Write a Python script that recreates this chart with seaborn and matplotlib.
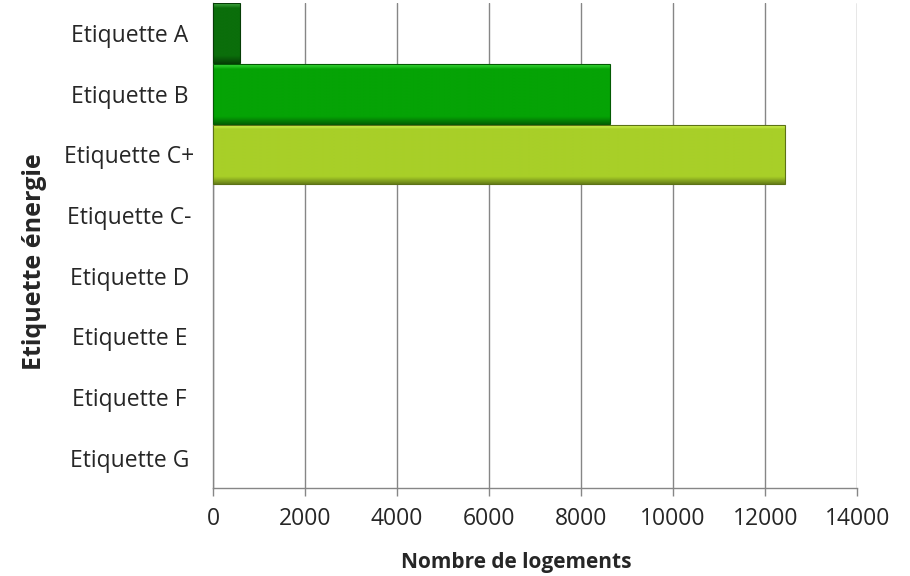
import numpy as np
import pandas as pd
import matplotlib
matplotlib.use("Agg")
import matplotlib.pyplot as plt
import matplotlib.colors as mcolors
import seaborn as sns

categories = ["Etiquette A", "Etiquette B", "Etiquette C+", "Etiquette C-",
              "Etiquette D", "Etiquette E", "Etiquette F", "Etiquette G"]
logements = [580, 8620, 12420, 0, 0, 0, 0, 0]
bar_colors = ["#0b6e0b", "#05a305", "#a8cf28", "#a8cf28",
              "#a8cf28", "#a8cf28", "#a8cf28", "#a8cf28"]
x_ticks = [0, 2000, 4000, 6000, 8000, 10000, 12000, 14000]

df = pd.DataFrame({"etiquette": categories, "logements": logements})

sns.set_theme(style="white")
plt.rcParams["font.family"] = ["Open Sans", "DejaVu Sans"]

fig = plt.figure(figsize=(9.1, 5.76), dpi=100)
ax = fig.add_axes([0.234, 0.153, 0.708, 0.842])

sns.barplot(data=df, y="etiquette", x="logements", hue="etiquette",
            palette=bar_colors, orient="h", width=0.98, legend=False,
            saturation=1.0, ax=ax, zorder=3)

# bevelled look: vertical gradient clipped to each bar
for patch, col in zip(ax.patches, bar_colors):
    w = patch.get_width()
    if w <= 0:
        patch.set_visible(False)
        continue
    x0, y0 = patch.get_x(), patch.get_y()
    h = patch.get_height()
    base = np.array(mcolors.to_rgb(col))
    light = np.clip(base + 0.22, 0, 1)
    dark = base * 0.62
    n = 100
    t = np.linspace(0, 1, n)
    grad = np.empty((n, 1, 3))
    for i, v in enumerate(t):
        if v < 0.08:
            c = light + (base - light) * (v / 0.08)
        elif v > 0.88:
            c = base + (dark - base) * ((v - 0.88) / 0.12)
        else:
            c = base
        grad[i, 0] = c
    im = ax.imshow(grad, extent=[x0, x0 + w, y0 + h, y0], aspect="auto",
                   zorder=3.5, interpolation="bilinear")
    im.set_clip_path(patch)
    patch.set_edgecolor(tuple(base * 0.55))
    patch.set_linewidth(0.8)
    patch.set_zorder(4)
    patch.set_facecolor("none")

ax.set_xlim(0, 14000)
ax.set_ylim(len(categories) - 0.5, -0.5)
ax.set_xticks(x_ticks)
ax.set_xticklabels([str(v) for v in x_ticks], fontsize=16.5)
ax.tick_params(axis="y", labelsize=16.5, length=0, pad=60)
for lab in ax.get_yticklabels():
    lab.set_horizontalalignment("center")
ax.tick_params(axis="x", length=6, color="#868686", width=1, direction="out",
               pad=8, bottom=True)
ax.grid(axis="x", color="#868686", linewidth=1, zorder=0)
ax.grid(axis="y", visible=False)
for side in ["top", "right"]:
    ax.spines[side].set_visible(False)
for side in ["left", "bottom"]:
    ax.spines[side].set_color("#868686")
    ax.spines[side].set_linewidth(1)

ax.set_xlabel("Nombre de logements", fontsize=15, fontweight="bold")
ax.set_ylabel("Etiquette énergie", fontsize=18, fontweight="bold")
ax.xaxis.set_label_coords(0.4705, -0.132)
ax.yaxis.set_label_coords(-0.258, 0.466)

fig.savefig("out.png", dpi=100, facecolor="white")
